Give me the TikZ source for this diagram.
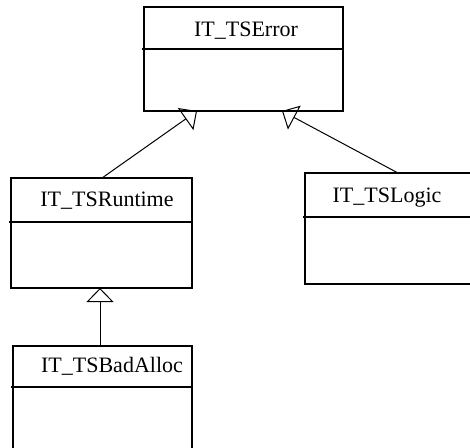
\documentclass[tikz,border=0pt]{standalone}
\usepackage{fontspec}
\setmainfont{Liberation Serif}
\usetikzlibrary{arrows.meta}
\begin{document}
\begin{tikzpicture}[x=1pt,y=-1pt,
  classbox/.style={draw,line width=2pt,inner sep=0pt,outer sep=0pt},
  divider/.style={line width=2pt},
  title/.style={anchor=base,inner sep=0pt,font=\fontsize{22}{26}\selectfont},
  inherit/.style={line width=1pt,-{Triangle[open,length=14pt,width=27pt,line width=1pt]}}]
\useasboundingbox (0,0) rectangle (470,447);
\fill[white] (0,0) rectangle (470,447);
\clip (0,0) rectangle (470,447);
% boxes
\node[classbox,minimum width=199pt,minimum height=104pt] (err) at (243.5,59) {};
\node[classbox,minimum width=181pt,minimum height=110pt] (rt) at (101.5,233) {};
\node[classbox,minimum width=180pt,minimum height=111pt] (lg) at (395,228.5) {};
\node[classbox,minimum width=179pt,minimum height=114pt] (ba) at (102.5,403) {};
% dividers
\draw[divider] (142,49) -- (err.east |- 0,49);
\draw[divider] (9,222) -- (rt.east |- 0,222);
\draw[divider] (303,217) -- (lg.east |- 0,217);
\draw[divider] (11,387) -- (ba.east |- 0,387);
% titles
\node[title] (terr) at (246,36) {IT\_TSError};
\node[title] (trt) at (107,206) {IT\_TSRuntime};
\node[title] (tlg) at (387,202) {IT\_TSLogic};
\node[title] (tba) at (112,372) {IT\_TSBadAlloc};
% connector end points
\coordinate (e1) at (197,111);
\coordinate (e2) at (282,111);
\coordinate (r1) at (102,178);
\coordinate (l1) at (398,173);
\coordinate (r2) at (100,288);
\coordinate (b1) at (100,346);
\draw[inherit] (r1) -- (e1);
\draw[inherit] (l1) -- (e2);
\draw[inherit] (b1) -- (r2);
\end{tikzpicture}
\end{document}
